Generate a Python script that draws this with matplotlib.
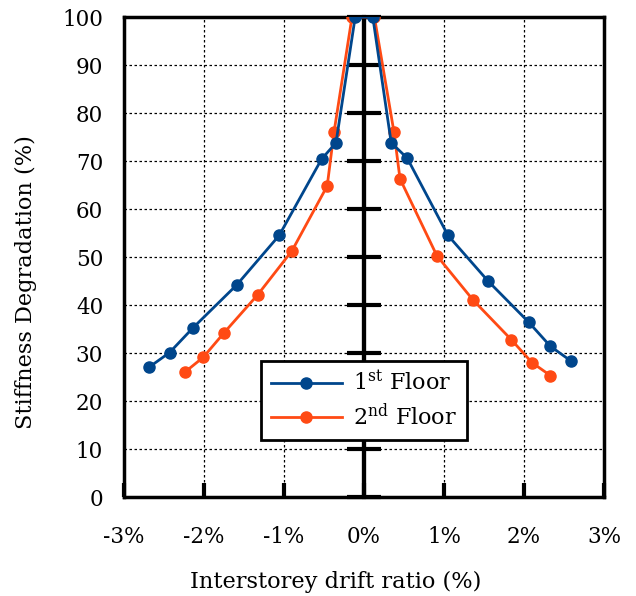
import matplotlib
matplotlib.use("Agg")
import matplotlib.pyplot as plt
from matplotlib.ticker import FuncFormatter
from matplotlib import rcParams

rcParams['font.family'] = 'DejaVu Serif'
rcParams['mathtext.fontset'] = 'dejavuserif'

# drift ratio (%) and stiffness degradation (%)
drift_1st = [-2.69, -2.43, -2.14, -1.59, -1.06, -0.53, -0.35, -0.11,
             0.11, 0.34, 0.54, 1.05, 1.55, 2.06, 2.33, 2.59]
stiff_1st = [27.0, 30.1, 35.2, 44.2, 54.5, 70.4, 73.8, 100.0,
             100.0, 73.8, 70.6, 54.5, 45.0, 36.4, 31.4, 28.3]

drift_2nd = [-2.24, -2.01, -1.75, -1.33, -0.90, -0.46, -0.375, -0.15,
             0.13, 0.375, 0.45, 0.91, 1.36, 1.84, 2.10, 2.33]
stiff_2nd = [26.0, 29.1, 34.2, 42.1, 51.3, 64.8, 76.0, 100.0,
             100.0, 76.0, 66.3, 50.3, 41.1, 32.8, 28.0, 25.3]

xticks = [-3, -2, -1, 0, 1, 2, 3]
yticks = list(range(0, 101, 10))

blue = '#00468c'
red = '#ff4a14'

fig = plt.figure(figsize=(6.36, 5.96), dpi=100)
ax = fig.add_axes([124/636, 1 - 497/596, 480/636, 480/596])

ax.plot(drift_2nd, stiff_2nd, color=red, lw=2, marker='o', ms=8, zorder=3,
        label=r'2$^{\rm nd}$ Floor')
ax.plot(drift_1st, stiff_1st, color=blue, lw=2, marker='o', ms=8, zorder=4,
        label=r'1$^{\rm st}$ Floor')

ax.set_xlim(-3, 3)
ax.set_ylim(0, 100)
ax.set_xticks(xticks)
ax.set_yticks(yticks)
ax.xaxis.set_major_formatter(FuncFormatter(lambda v, p: f"{v:.0f}%"))
ax.grid(True, color='k', linestyle=(0, (2, 2)), lw=0.9)
ax.set_axisbelow(True)

for s in ax.spines.values():
    s.set_linewidth(2.5)
ax.tick_params(axis='x', direction='in', length=10, width=3, pad=21, labelsize=15.5)
ax.tick_params(axis='y', length=0, pad=15, labelsize=15.5)

# central axis with ticks crossing both sides
ax.axvline(0, color='k', lw=3, zorder=2)
sec = ax.secondary_yaxis(0.5)
for s in sec.spines.values():
    s.set_linewidth(3)
sec.set_yticks(yticks)
sec.set_yticklabels([])
sec.tick_params(direction='inout', length=24, width=3,
                labelleft=False, labelright=False)

ax.set_xlabel("Interstorey drift ratio (%)", fontsize=16.2)
ax.set_ylabel("Stiffness Degradation (%)", fontsize=16.2)
ax.xaxis.set_label_coords(0.442, -0.155)
ax.yaxis.set_label_coords(-0.181, 0.448)

h, l = ax.get_legend_handles_labels()
leg = ax.legend(h[::-1], l[::-1], loc='lower left', bbox_to_anchor=(0.285, 0.119),
                fontsize=16, fancybox=False, framealpha=1, edgecolor='k',
                handlelength=3.2, handletextpad=0.5, borderpad=0.45,
                labelspacing=0.35, borderaxespad=0)
leg.get_frame().set_linewidth(2)
leg.set_zorder(10)

fig.savefig("out.png", dpi=100)
